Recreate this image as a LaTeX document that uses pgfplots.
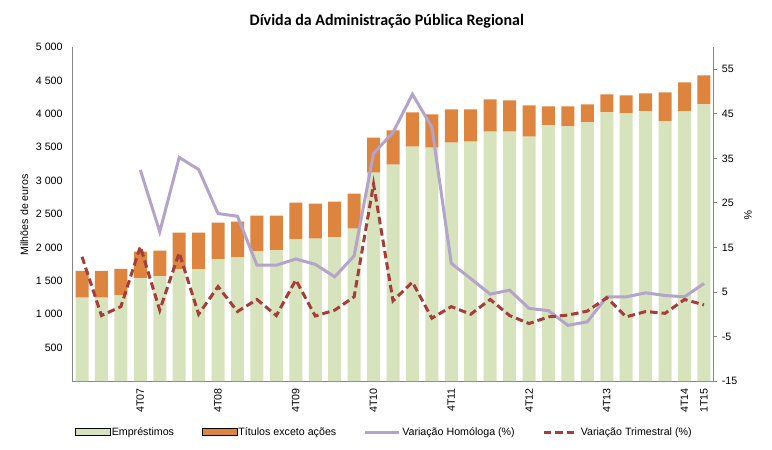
\documentclass[border=0pt]{standalone}
\usepackage{fontspec}
\setmainfont{Liberation Sans}
\newfontfamily\titlefont{Carlito}
\usepackage{pgfplots}
\usepackage{pgfplotstable}
\pgfplotsset{compat=1.18}

\definecolor{emp}{RGB}{215,227,188}
\definecolor{tit}{RGB}{221,132,62}
\definecolor{hom}{RGB}{180,164,202}
\definecolor{tri}{RGB}{165,62,59}
\definecolor{axgray}{RGB}{134,134,134}

% Empréstimos, Títulos (parcela), Var. homóloga, Var. trimestral
\pgfplotstableread{
x emp tit hom tri
0 1250 400 nan 12.9
1 1250 400 nan -0.3
2 1280 400 nan 1.7
3 1535 400 32.4 15.2
4 1565 385 18.5 0.9
5 1670 550 35.2 13.8
6 1670 550 32.5 0.0
7 1820 550 22.6 6.2
8 1850 535 22.0 0.6
9 1940 535 11.0 3.3
10 1955 520 11.0 -0.3
11 2120 550 12.4 7.7
12 2130 525 11.2 -0.4
13 2150 535 8.4 0.9
14 2280 525 13.1 3.9
15 3120 525 36.1 29.2
16 3240 510 40.8 3.0
17 3510 510 49.4 7.2
18 3495 495 42.0 -0.9
19 3570 495 11.4 1.7
20 3585 480 8.0 0.0
21 3735 480 4.5 3.3
22 3735 465 5.4 -0.3
23 3660 465 1.3 -2.1
24 3825 285 0.8 -0.6
25 3810 300 -2.5 -0.2
26 3870 270 -1.7 0.7
27 4020 270 3.9 3.7
28 4005 270 3.9 -0.6
29 4035 270 4.8 0.6
30 3885 435 4.2 0.2
31 4035 435 3.9 3.3
32 4140 435 6.9 2.1
}\divida

\pgfplotsset{
  base/.style={scale only axis, width=641.4bp, height=334bp,
    xmin=-0.5, xmax=32.5,
    axis line style={axgray, line width=0.8bp},
    tick style={axgray, line width=0.8bp},
    /pgf/number format/assume math mode=true,
    /pgf/number format/1000 sep={\ },
    tick label style={font=\fontsize{10.67bp}{12.8bp}\selectfont}},
  barlegend/.style={legend image code/.code={\fill[##1] (0bp,-3.5bp) rectangle (35bp,3.5bp);}},
  linelegend/.style={legend image code/.code={\draw[##1] (0bp,0bp) -- (34bp,0bp);}},
}

\begin{document}
\begin{tikzpicture}[font=\fontsize{10.67bp}{12.8bp}\selectfont]
\path[use as bounding box] (-72.3bp,-69bp) rectangle (699.7bp,381bp);

\begin{axis}[base, ymin=0, ymax=5000,
  axis x line*=bottom, axis y line*=left,
  major tick length=0pt,
  ytick={500,1000,...,5000},
  yticklabel style={anchor=east, inner sep=0pt, xshift=-9.5bp},
  xtick={3,7,11,15,19,23,27,31,32},
  xticklabels={4T07,4T08,4T09,4T10,4T11,4T12,4T13,4T14,1T15},
  xticklabel style={rotate=90, anchor=east, inner xsep=7bp, inner ysep=0pt},
  ybar stacked, bar width=13bp]
\addplot[fill=emp, draw=none] table[x=x, y=emp] {\divida};
\addplot[fill=tit, draw=none] table[x=x, y=tit] {\divida};
\end{axis}

\begin{axis}[base, ymin=-15, ymax=60,
  axis x line=none, axis y line*=right,
  ytick={-15,-5,...,55},
  major tick length=3bp, ytick pos=right, tick align=outside,
  yticklabel style={anchor=west, inner sep=0pt, xshift=5bp},
  legend columns=4,
  legend style={at={(0.486,-0.153)}, anchor=center, draw=none, fill=none,
    inner sep=0pt,
    nodes={inner sep=1.5bp, anchor=west},
    /tikz/every even column/.append style={column sep=26bp}},
  legend entries={Empréstimos, Títulos exceto ações, Variação Homóloga (\%), Variação Trimestral (\%)}]
\addlegendimage{barlegend, fill=emp}
\addlegendimage{barlegend, fill=tit}
\addplot[hom, line width=3bp, linelegend] table[x=x, y=hom] {\divida};
\addplot[tri, line width=3bp, dash pattern=on 7.5bp off 4bp, linelegend] table[x=x, y=tri] {\divida};
\end{axis}

\node[font=\fontsize{16bp}{19bp}\selectfont\titlefont\bfseries] at (314.5bp,360bp) {Dívida da Administração Pública Regional};
\node[rotate=90] at (-48bp,166bp) {Milhões de euros};
\node[rotate=-90] at (675.7bp,166bp) {\%};
\end{tikzpicture}
\end{document}
